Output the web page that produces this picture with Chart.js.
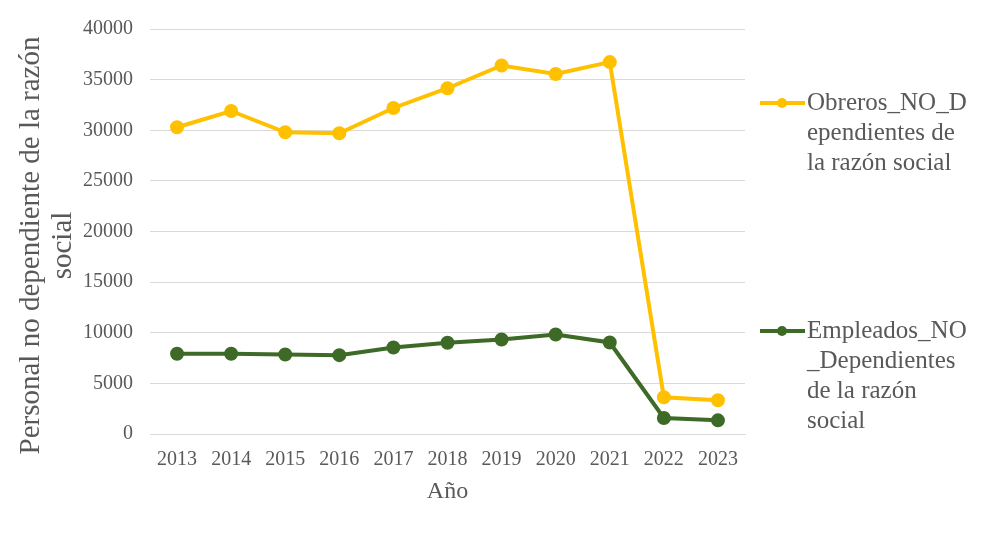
<!DOCTYPE html>
<html>
<head>
<meta charset="utf-8">
<script src="https://cdn.jsdelivr.net/npm/chart.js@4"></script>
<style>
html,body{margin:0;padding:0;background:#fff;}
#wrap{width:987px;height:545px;position:relative;}
</style>
</head>
<body>
<div id="wrap"><canvas id="c" width="987" height="545"></canvas></div>
<script>
const years = ['2013','2014','2015','2016','2017','2018','2019','2020','2021','2022','2023'];
const obreros = [30300, 31900, 29800, 29700, 32200, 34150, 36400, 35550, 36730, 3630, 3330];
const empleados = [7920, 7920, 7850, 7790, 8550, 9010, 9340, 9830, 9040, 1580, 1350];
const obrerosLabel = ['Obreros_NO_D', 'ependientes de', 'la razón social'];
const empleadosLabel = ['Empleados_NO', '_Dependientes', 'de la razón', 'social'];
const yTitle = ['Personal no dependiente de la razón', 'social'];
const xTitle = 'Año';

const FONT = "'Liberation Serif', 'Times New Roman', serif";
const YELLOW = '#FFC000';
const GREEN = '#3E6A27';
const TEXT = '#595959';

const sidePlugin = {
  id: 'sideText',
  afterDraw(chart) {
    const ctx = chart.ctx;
    const area = chart.chartArea;
    ctx.save();
    const items = [
      {ds: 0, lines: obrerosLabel, y: 103},
      {ds: 1, lines: empleadosLabel, y: 331}
    ];
    items.forEach(it => {
      const color = chart.data.datasets[it.ds].borderColor;
      ctx.strokeStyle = color;
      ctx.lineWidth = 4;
      ctx.beginPath();
      ctx.moveTo(760, it.y);
      ctx.lineTo(805, it.y);
      ctx.stroke();
      ctx.fillStyle = color;
      ctx.beginPath();
      ctx.arc(782, it.y, 5, 0, Math.PI * 2);
      ctx.fill();
      ctx.fillStyle = TEXT;
      ctx.font = '25px ' + FONT;
      ctx.textBaseline = 'middle';
      ctx.textAlign = 'left';
      it.lines.forEach((t, i) => ctx.fillText(t, 807, it.y + i * 30));
    });
    ctx.font = '29px ' + FONT;
    ctx.fillStyle = TEXT;
    ctx.textAlign = 'center';
    ctx.textBaseline = 'middle';
    const cy = (area.top + area.bottom) / 2 + 14;
    yTitle.forEach((t, i) => {
      ctx.save();
      ctx.translate(31 + i * 32, cy);
      ctx.rotate(-Math.PI / 2);
      ctx.fillText(t, 0, 0);
      ctx.restore();
    });
    ctx.restore();
  }
};

new Chart(document.getElementById('c'), {
  type: 'line',
  data: {
    labels: years,
    datasets: [
      {label: obrerosLabel.join(''), data: obreros, borderColor: YELLOW, backgroundColor: YELLOW,
       borderWidth: 4, pointRadius: 5, pointBackgroundColor: YELLOW, pointBorderColor: YELLOW, tension: 0},
      {label: empleadosLabel.join(''), data: empleados, borderColor: GREEN, backgroundColor: GREEN,
       borderWidth: 4, pointRadius: 5, pointBackgroundColor: GREEN, pointBorderColor: GREEN, tension: 0}
    ]
  },
  options: {
    responsive: false,
    animation: false,
    devicePixelRatio: 1,
    layout: {padding: {left: 0, top: 28, right: 242, bottom: 39}},
    plugins: {legend: {display: false}, tooltip: {enabled: false}},
    scales: {
      x: {
        offset: true,
        afterFit(scale) { scale.height = 72; },
        grid: {display: false, drawTicks: false},
        border: {display: true, color: '#d9d9d9', width: 1},
        ticks: {font: {family: FONT, size: 20}, color: TEXT, padding: 14, maxRotation: 0},
        title: {display: true, text: xTitle, font: {family: FONT, size: 24}, color: TEXT, padding: {top: 7, bottom: 0}}
      },
      y: {
        min: 0, max: 40000,
        afterFit(scale) { scale.width = 150; },
        grid: {color: '#d9d9d9', lineWidth: 1, drawTicks: false},
        border: {display: false},
        ticks: {stepSize: 5000, font: {family: FONT, size: 20}, color: TEXT, padding: 17,
                callback: v => String(v)},
        title: {display: false}
      }
    }
  },
  plugins: [sidePlugin]
});
</script>
</body>
</html>
